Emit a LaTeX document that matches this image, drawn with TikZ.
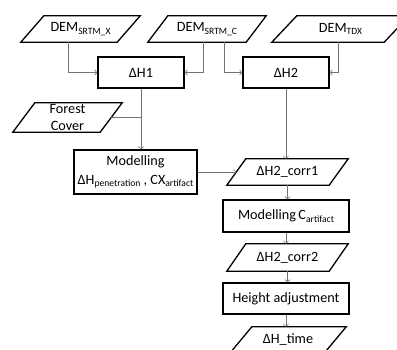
\documentclass[tikz,border=0pt]{standalone}
\usepackage{fontspec}
\setmainfont{Carlito}
\usetikzlibrary{arrows.meta}
\newcommand\sbs[1]{\raisebox{-2.8pt}{\fontsize{9.6}{10}\selectfont #1}}
\newcommand\para[7]{%
  \node[pnode,minimum width=#4pt,minimum height=#5pt] (#1) at (#2,#3) {#7};
  \draw[border] ([xshift=-#6pt/2]#1.south west) -- ([xshift=-#6pt/2]#1.south east)
    -- ([xshift=#6pt/2]#1.north east) -- ([xshift=#6pt/2]#1.north west) -- cycle;}
\begin{document}
\begin{tikzpicture}[x=1pt,y=-1pt,
  border/.style={draw=black,line width=1.3pt},
  txt/.style={font=\fontsize{14.2}{18.5}\selectfont,align=center,inner sep=0pt},
  pnode/.style={txt},
  box/.style={txt,border},
  conn/.style={draw=black!55,line width=0.6pt,-{To[length=3pt,width=5.5pt]}},
  joinline/.style={draw=black!55,line width=0.6pt}]
\useasboundingbox (0,0) rectangle (397,349);
\clip (0,0) rectangle (397,349);
% input parallelograms
\para{dx}{80.5}{29}{96}{26}{23}{DEM\sbs{SRTM\_X}}
\para{dc}{207}{29}{98}{26}{20}{DEM\sbs{SRTM\_C}}
\para{dt}{340.5}{29}{112}{26}{25}{DEM\sbs{TDX}}
\para{fc}{67.5}{117.5}{87}{29}{22}{Forest\\[-1.5pt]Cover}
% boxes
\node[box,minimum width=86pt,minimum height=31pt] (h1) at (141,72.5) {ΔH1};
\node[box,minimum width=86pt,minimum height=31pt] (h2) at (286,72.5) {ΔH2};
\node[box,minimum width=123pt,minimum height=44pt] (mod) at (135.5,172)
  {Modelling\\[0pt]ΔH\sbs{penetration} , CX\sbs{artifact}};
\para{c1}{287.5}{172}{102}{26}{19}{ΔH2\_corr1}
\node[box,minimum width=126pt,minimum height=32pt] (ca) at (286,216)
  {Modelling\,C\sbs{artifact}};
\para{c2}{287.5}{257.5}{102}{27}{19}{ΔH2\_corr2}
\node[box,minimum width=126pt,minimum height=31pt] (ha) at (286,298.5)
  {Height adjustment};
\para{tm}{288}{340}{94}{26}{22}{ΔH\_time}
% connectors
\draw[conn] ([xshift=-12.5pt]dx.south) |- (h1.west);
\draw[conn] ([xshift=-4pt]dc.south) |- (h1.east);
\draw[conn] ([xshift=17pt]dc.south) |- (h2.west);
\draw[conn] ([xshift=-2.5pt]dt.south) |- (h2.east);
\draw[joinline] (fc.east) -- (fc.east -| h1.south);
\draw[conn] (h1.south) -- (h1.south |- mod.north);
\draw[conn] (h2.south) -- (h2.south |- c1.north);
\draw[conn] (mod.east) -- (c1.west);
\draw[conn] (c1.south) -- (c1.south |- ca.north);
\draw[conn] (ca.south) -- (ca.south |- c2.north);
\draw[conn] (c2.south) -- (c2.south |- ha.north);
\draw[conn] (ha.south) -- (ha.south |- tm.north);
\end{tikzpicture}
\end{document}
